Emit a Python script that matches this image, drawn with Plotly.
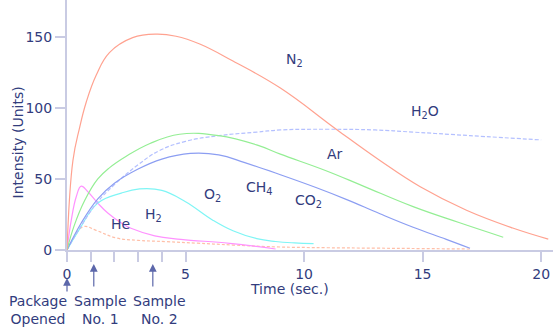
import plotly.graph_objects as go

# ---- data ----
n2_x = [0, 0.25, 0.53, 0.81, 1.23, 1.79, 2.77, 3.77, 4.6, 5.6, 7.0, 9.0, 11.4, 13.2, 14.9, 16.85, 18.8, 20.3]
n2_y = [0, 63, 86, 104, 123, 139, 149.5, 152, 150.5, 145, 133, 114, 84.5, 63, 44.5, 28, 15.5, 7.7]

ar_x = [0, 0.3, 0.75, 1.3, 1.8, 2.5, 3.5, 4.75, 6.4, 8, 9, 10.9, 12.5, 14.6, 16.5, 18.4]
ar_y = [0, 17, 35, 50, 58, 66, 75, 81.5, 80.5, 74, 67.5, 56, 45, 30.5, 19.5, 9]

co2_x = [0, 0.6, 1.3, 2, 3, 4, 5.2, 6.4, 7.5, 9, 10.5, 11.8, 13.2, 14.6, 16, 17]
co2_y = [0, 19, 36, 47, 57, 64, 68, 67, 61.5, 53, 44, 35.5, 25.5, 16, 7.5, 1.2]

h2o_x = [0, 0.6, 1.3, 2, 3, 3.9, 5, 6.4, 8, 9, 11, 13, 14.6, 17, 20]
h2o_y = [0, 17, 34, 46, 60, 70, 76.5, 80.5, 83, 84.5, 85, 84.5, 83, 80.5, 77.5]

o2_x = [0, 0.5, 1.3, 2.29, 3.06, 4, 5, 6.15, 7, 8, 8.8, 9.6, 10.4]
o2_y = [0, 14, 33, 40, 43, 42, 34, 21, 13.5, 8, 6, 5, 4.5]

he_x = [0, 0.18, 0.39, 0.6, 0.88, 1.3, 1.72, 2.29, 2.7, 3.7, 4.8, 6.86, 8.8]
he_y = [0, 21, 37.5, 45, 41, 33, 26, 19, 15.3, 10, 7.5, 4.7, 0.7]

h2_x = [0, 0.3, 0.7, 1.2, 2.07, 3, 4.2, 5.5, 7, 8.8, 11, 13, 15, 17]
h2_y = [0, 9, 16.5, 14, 8.5, 6.8, 5.9, 4.8, 3.5, 2.2, 1.6, 1.3, 1, 0.7]

gas_labels = ["N<sub>2</sub>", "H<sub>2</sub>O", "Ar", "CO<sub>2</sub>", "CH<sub>4</sub>",
              "O<sub>2</sub>", "H<sub>2</sub>", "He"]
gas_label_x = [9.6, 15.1, 11.3, 10.2, 8.1, 6.15, 3.65, 2.26]
gas_label_y = [134, 97, 67.6, 34.5, 43.7, 38.7, 24.6, 18.3]

event_labels = ["Package<br>Opened", "Sample<br>No. 1", "Sample<br>No. 2"]
event_x = [0, 1.13, 3.62]
event_label_px = [-0.06, 0.068, 0.191]   # label centres, paper fraction of plot width

x_tickvals = [0, 1, 2, 3, 4, 5, 10, 15, 20]
x_ticktext = ["0", "", "", "", "", "5", "10", "15", "20"]
y_tickvals = [0, 50, 100, 150]

TXT = "#323c7d"
AX = "#c9cbe3"
FONT = "DejaVu Sans"

fig = go.Figure()

def add(x, y, color, dash="solid", width=1.2):
    fig.add_trace(go.Scatter(x=x, y=y, mode="lines",
                             line=dict(color=color, width=width, dash=dash,
                                       shape="spline", smoothing=1.2),
                             showlegend=False, hoverinfo="skip"))

add(h2_x, h2_y, "#ffbfa8", dash="3px,2px")
add(he_x, he_y, "#ff92ff")
add(o2_x, o2_y, "#7ff5f5")
add(h2o_x, h2o_y, "#b4c0ff", dash="4px,2px")
add(co2_x, co2_y, "#8c9ef2")
add(ar_x, ar_y, "#94ee94")
add(n2_x, n2_y, "#ffa290")

annotations = []
for t, x, y in zip(gas_labels, gas_label_x, gas_label_y):
    annotations.append(dict(x=x, y=y, xref="x", yref="y", text=t, showarrow=False,
                            xanchor="center", yanchor="middle",
                            font=dict(family=FONT, size=14, color=TXT)))

# event arrows and labels (paper y: 0 = x axis, plot height 250 px)
arrow_tips = [-0.112, -0.056, -0.056]
arrow_len = [15, 24, 24]
for x, tip, ln in zip(event_x, arrow_tips, arrow_len):
    annotations.append(dict(x=x, y=tip, xref="x", yref="paper", ax=0, ay=ln,
                            text="", showarrow=True,
                            arrowhead=2, arrowsize=1.3, arrowwidth=1.2,
                            arrowcolor="#5c67aa"))
for t, px in zip(event_labels, event_label_px):
    annotations.append(dict(x=px, y=-0.24, xref="paper", yref="paper", text=t,
                            showarrow=False, align="center",
                            xanchor="center", yanchor="middle",
                            font=dict(family=FONT, size=14, color=TXT)))

annotations.append(dict(x=-0.101, y=0.43, xref="paper", yref="paper",
                        text="Intensity (Units)", textangle=-90, showarrow=False,
                        xanchor="center", yanchor="middle",
                        font=dict(family=FONT, size=14, color=TXT)))
annotations.append(dict(x=9.4, y=-0.155, xref="x", yref="paper",
                        text="Time (sec.)", showarrow=False,
                        xanchor="center", yanchor="middle",
                        font=dict(family=FONT, size=14, color=TXT)))

fig.update_layout(
    width=560, height=334,
    margin=dict(l=67, r=7, t=0, b=84),
    paper_bgcolor="white", plot_bgcolor="white",
    annotations=annotations,
    xaxis=dict(range=[0, 20.5], tickvals=x_tickvals, ticktext=x_ticktext,
               showgrid=False, zeroline=False, showline=True, linecolor=AX,
               linewidth=2, ticks="outside", ticklen=10, tickcolor=AX, tickwidth=2,
               tickfont=dict(family=FONT, size=14, color=TXT)),
    yaxis=dict(range=[0, 176], tickvals=y_tickvals,
               showgrid=False, zeroline=False, showline=True, linecolor=AX,
               linewidth=2, ticks="outside", ticklen=10, tickcolor=AX, tickwidth=2,
               tickfont=dict(family=FONT, size=14, color=TXT)),
)

fig.write_html("out.html")
